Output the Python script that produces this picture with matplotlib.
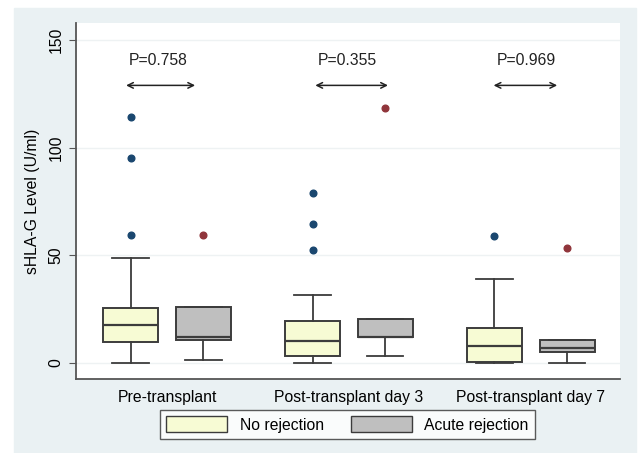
import matplotlib.pyplot as plt
from matplotlib.patches import Rectangle, Patch
import numpy as np

plt.rcParams['font.family'] = ['Liberation Sans', 'DejaVu Sans']

categories = ['Pre-transplant', 'Post-transplant day 3', 'Post-transplant day 7']
groups = ['No rejection', 'Acute rejection']

# box stats: (whislo, q1, med, q3, whishi)
no_rej = [(0, 9.6, 17.6, 25.7, 48.8),
          (0, 3.4, 10.2, 19.6, 31.4),
          (0, 0.5, 7.9, 16.3, 39.0)]
acute = [(1.5, 10.4, 12.0, 26.0, 26.0),
         (3.1, 11.9, 11.9, 20.4, 20.4),
         (0, 5.0, 6.8, 10.5, 10.5)]
no_rej_out = [[59.3, 95.4, 114.1], [52.5, 64.6, 79.0], [59.2]]
acute_out = [[59.5], [118.4], [53.3]]

p_values = ['P=0.758', 'P=0.355', 'P=0.969']
arrow_from = [0.76, 1.80, 2.78]
arrow_to = [1.17, 2.23, 3.16]

fill_cols = ['#f7fbd4', '#bfbfbf']
dot_cols = ['#1a476f', '#90353b']
edge = '#3c3c3c'
fs = 11.3

fig = plt.figure(figsize=(6.39, 4.53), dpi=100, facecolor='white')
fig.patches.append(Rectangle((14 / 639, 0), 622 / 639, 445 / 453,
                             transform=fig.transFigure, color='#eaf1f3', zorder=-5))
ax = fig.add_axes([76 / 639, 1 - 379 / 453, 544 / 639, 356 / 453])
ax.set_zorder(2)
ax.set_facecolor('white')

pos = np.arange(1, 4)
for k, (stats, outs) in enumerate([(no_rej, no_rej_out), (acute, acute_out)]):
    bxp = []
    for s, o in zip(stats, outs):
        bxp.append(dict(whislo=s[0], q1=s[1], med=s[2], q3=s[3], whishi=s[4], fliers=o))
    offs = -0.2 if k == 0 else 0.2
    ax.bxp(bxp, positions=pos + offs, widths=0.30, patch_artist=True,
           boxprops=dict(facecolor=fill_cols[k], edgecolor=edge, linewidth=1.4),
           medianprops=dict(color=edge, linewidth=1.6),
           whiskerprops=dict(color=edge, linewidth=1.3),
           capprops=dict(color=edge, linewidth=1.3),
           capwidths=0.2,
           flierprops=dict(marker='o', markerfacecolor=dot_cols[k],
                           markeredgecolor=dot_cols[k], markersize=4.8),
           manage_ticks=False, zorder=3)

for i in range(3):
    ax.annotate('', xy=(arrow_to[i], 129), xytext=(arrow_from[i], 129),
                arrowprops=dict(arrowstyle='<->', color='#222222', lw=1.1))
    ax.text(arrow_from[i] + 0.03, 140.5, p_values[i], fontsize=fs, va='center', color='#222222')

ax.set_xlim(0.5, 3.49)
ax.set_ylim(-7.5, 158)
ax.set_yticks([0, 50, 100, 150])
ax.set_yticklabels(['0', '50', '100', '150'], rotation=90, va='center', fontsize=fs)
ax.set_xticks(pos)
ax.set_xticklabels(categories, fontsize=fs)
ax.tick_params(axis='x', length=0, pad=8)
ax.tick_params(axis='y', length=5, color='#555555', pad=4)
ax.grid(axis='y', color='#eef2f3', lw=1)
ax.set_axisbelow(True)
ax.set_ylabel('sHLA-G Level (U/ml)', fontsize=fs, labelpad=6)
for s in ['top', 'right']:
    ax.spines[s].set_visible(False)
for s in ['left', 'bottom']:
    ax.spines[s].set_color('#555555')
    ax.spines[s].set_linewidth(1.3)

handles = [Patch(facecolor=fill_cols[k], edgecolor=edge, label=groups[k]) for k in range(2)]
fig.legend(handles=handles, loc='center', bbox_to_anchor=(347.5 / 639, 1 - 424.5 / 453),
           ncol=2, frameon=True, fancybox=False, edgecolor='#333333', fontsize=fs,
           handlelength=3.9, handleheight=1.2, handletextpad=0.8,
           columnspacing=1.7, borderpad=0.4)

fig.savefig('out.png', dpi=100, facecolor=fig.get_facecolor())
